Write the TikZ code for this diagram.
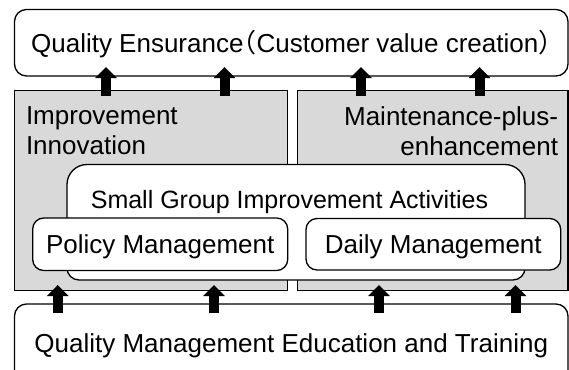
\documentclass[tikz,border=0pt]{standalone}
\usepackage{fontspec}
\setmainfont{Liberation Sans}
\newfontfamily\cjkfont[RawFeature=+halt]{Noto Sans CJK JP}
\usetikzlibrary{arrows.meta}
\definecolor{panelgray}{HTML}{D9D9D9}
\begin{document}
\begin{tikzpicture}[x=1pt,y=-1pt,
  every node/.style={inner sep=0pt, outer sep=0pt,
    font=\fontsize{26}{30.7}\selectfont},
  box/.style={draw, line width=1.3pt, fill=white, rounded corners=#1},
  box/.default=11pt,
  panel/.style={draw, line width=1.3pt, fill=panelgray},
  captext/.style={text height=18.6pt, text depth=0pt},
  uparrow/.style={line width=10pt, -{Triangle[width=21pt,length=11pt]}},
]
\useasboundingbox (0,0) rectangle (569,369);
\clip (0,0) rectangle (569,369);

% two shaded areas
\node[panel, minimum width=273.2pt, minimum height=199.8pt] (lp) at (151.1,190.6) {};
\node[panel, minimum width=270.7pt, minimum height=199.8pt] (rp) at (432.65,190.6) {};
\node[anchor=north west, align=left] (imp) at (26,106.4) {Improvement\\Innovation};
\node[anchor=north east, align=right] (mpe) at (558,106.4) {Maintenance-plus-\\enhancement};

% top and bottom boxes
\node[box=12pt, captext, minimum width=553.5pt, minimum height=66.5pt] (qa) at (291.25,42.75)
  {Quality Ensurance{\cjkfont （}Customer value creation{\cjkfont ）}};
\node[box=12pt, captext, minimum width=553.5pt, minimum height=78pt] (qm) at (291.25,343)
  {Quality Management Education and Training};

% small group activities box, larger radius on top
\node[minimum width=458pt, minimum height=115.5pt] (sg) at (296,222.25) {};
\filldraw[fill=white, line width=1.3pt, rounded corners=20pt]
  (sg.west) |- (sg.north) -| (sg.east) [rounded corners=12pt] |- (sg.south) -| (sg.west) -- cycle;
\node[anchor=base, font=\fontsize{25}{30}\selectfont] (sgt) at (289.5,208) {Small Group Improvement Activities};

% management boxes
\node[box, captext, minimum width=255pt, minimum height=52.5pt] (pm) at (160.2,244.25) {Policy Management};
\node[box, captext, minimum width=254.7pt, minimum height=51.5pt] (dm) at (433.35,244.25) {Daily Management};

% arrow columns
\coordinate (c1) at (106,0);
\coordinate (c2) at (224.5,0);
\coordinate (c3) at (361,0);
\coordinate (c4) at (479.5,0);
\coordinate (c5) at (57.7,0);
\coordinate (c6) at (214,0);
\coordinate (c7) at (379,0);
\coordinate (c8) at (515.5,0);

\draw[uparrow] ([yshift=-5.3pt]lp.north -| c1) -- ([yshift=9pt]qa.south -| c1);
\draw[uparrow] ([yshift=-5.3pt]lp.north -| c2) -- ([yshift=9pt]qa.south -| c2);
\draw[uparrow] ([yshift=-5.3pt]rp.north -| c3) -- ([yshift=9pt]qa.south -| c3);
\draw[uparrow] ([yshift=-5.3pt]rp.north -| c4) -- ([yshift=9pt]qa.south -| c4);

\draw[uparrow] ([yshift=-9pt]qm.north -| c5) -- ([yshift=5.5pt]lp.south -| c5);
\draw[uparrow] ([yshift=-9pt]qm.north -| c6) -- ([yshift=5.5pt]lp.south -| c6);
\draw[uparrow] ([yshift=-9pt]qm.north -| c7) -- ([yshift=5.5pt]rp.south -| c7);
\draw[uparrow] ([yshift=-9pt]qm.north -| c8) -- ([yshift=5.5pt]rp.south -| c8);
\end{tikzpicture}
\end{document}
